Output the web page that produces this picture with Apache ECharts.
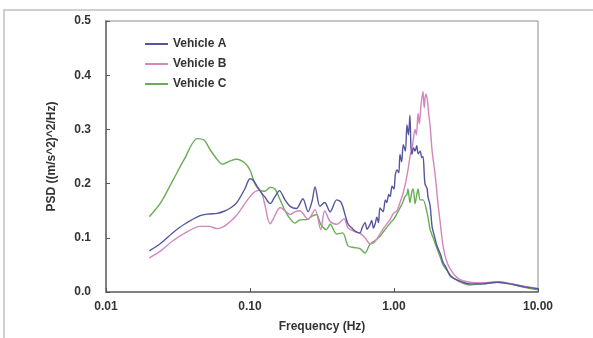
<!DOCTYPE html>
<html style="height:100%;">
<head>
  <meta charset="utf-8">
  <script src="https://cdn.jsdelivr.net/npm/echarts@6/dist/echarts.min.js"></script>
</head>
<body style="margin:0;background:#fff;">
  <div id="chart" style="width:593px;height:338px;"></div>
  <script>
    // frequency (Hz) and PSD values
    var freqA = [0.02, 0.024, 0.029, 0.035, 0.045, 0.052, 0.059, 0.066, 0.073, 0.081, 0.092, 0.1, 0.105, 0.112, 0.12, 0.127, 0.138, 0.149, 0.16, 0.175, 0.19, 0.21, 0.233, 0.253, 0.27, 0.283, 0.306, 0.33, 0.36, 0.4, 0.43, 0.46, 0.48, 0.51, 0.54, 0.58, 0.6, 0.63, 0.65, 0.68, 0.7, 0.72, 0.74, 0.76, 0.78, 0.8, 0.84, 0.87, 0.89, 0.92, 0.94, 0.97, 1.0, 1.02, 1.05, 1.08, 1.1, 1.13, 1.16, 1.2, 1.23, 1.26, 1.29, 1.31, 1.33, 1.37, 1.4, 1.44, 1.47, 1.52, 1.56, 1.59, 1.64, 1.7, 1.72, 1.78, 1.84, 1.9, 1.99, 2.1, 2.19, 2.3, 2.45, 2.6, 2.87, 3.37, 4.15, 5.19, 6.39, 7.87, 10];
    var psdA = [0.076, 0.09, 0.109, 0.125, 0.141, 0.144, 0.145, 0.149, 0.155, 0.165, 0.19, 0.209, 0.206, 0.195, 0.183, 0.175, 0.163, 0.176, 0.187, 0.17, 0.158, 0.154, 0.172, 0.148, 0.168, 0.194, 0.158, 0.165, 0.148, 0.17, 0.165, 0.14, 0.125, 0.118, 0.112, 0.109, 0.118, 0.128, 0.116, 0.124, 0.132, 0.118, 0.126, 0.138, 0.128, 0.155, 0.148, 0.17, 0.165, 0.18, 0.176, 0.195, 0.19, 0.215, 0.225, 0.22, 0.254, 0.24, 0.272, 0.26, 0.308, 0.29, 0.326, 0.27, 0.254, 0.266, 0.26, 0.27, 0.255, 0.26, 0.248, 0.25, 0.2, 0.19, 0.176, 0.16, 0.12, 0.105, 0.085, 0.07, 0.055, 0.045, 0.03, 0.025, 0.02, 0.015, 0.015, 0.018, 0.015, 0.01, 0.006];

    var freqB = [0.02, 0.024, 0.029, 0.035, 0.045, 0.052, 0.059, 0.065, 0.073, 0.081, 0.092, 0.1, 0.108, 0.117, 0.127, 0.133, 0.138, 0.145, 0.162, 0.175, 0.19, 0.205, 0.222, 0.253, 0.283, 0.31, 0.33, 0.36, 0.4, 0.45, 0.48, 0.53, 0.58, 0.63, 0.68, 0.72, 0.76, 0.82, 0.87, 0.94, 0.99, 1.05, 1.1, 1.15, 1.2, 1.25, 1.3, 1.33, 1.36, 1.4, 1.43, 1.47, 1.5, 1.54, 1.59, 1.62, 1.66, 1.7, 1.74, 1.78, 1.84, 1.93, 2.02, 2.09, 2.19, 2.3, 2.45, 2.78, 3.37, 4.15, 5.19, 6.39, 7.87, 10];
    var psdB = [0.063, 0.076, 0.094, 0.108, 0.121, 0.121, 0.117, 0.12, 0.13, 0.142, 0.163, 0.176, 0.185, 0.188, 0.16, 0.135, 0.126, 0.135, 0.156, 0.15, 0.143, 0.148, 0.15, 0.134, 0.152, 0.115, 0.15, 0.13, 0.125, 0.135, 0.118, 0.112, 0.108, 0.1, 0.089, 0.09, 0.098, 0.112, 0.122, 0.134, 0.145, 0.15, 0.165, 0.18, 0.2, 0.225, 0.254, 0.26, 0.28, 0.3, 0.29, 0.33, 0.31, 0.345, 0.37, 0.34, 0.365, 0.357, 0.33, 0.308, 0.26, 0.217, 0.163, 0.13, 0.085, 0.06, 0.043, 0.025, 0.018, 0.017, 0.019, 0.016, 0.011, 0.006];

    var freqC = [0.02, 0.024, 0.029, 0.035, 0.043, 0.048, 0.053, 0.059, 0.064, 0.073, 0.081, 0.092, 0.1, 0.108, 0.117, 0.127, 0.138, 0.149, 0.162, 0.175, 0.19, 0.205, 0.222, 0.25, 0.27, 0.29, 0.31, 0.34, 0.36, 0.4, 0.44, 0.48, 0.53, 0.58, 0.63, 0.68, 0.74, 0.8, 0.85, 0.94, 1.0, 1.05, 1.1, 1.15, 1.19, 1.23, 1.25, 1.29, 1.33, 1.36, 1.4, 1.44, 1.47, 1.52, 1.59, 1.7, 1.78, 1.87, 1.99, 2.09, 2.19, 2.33, 2.6, 3.37, 4.15, 5.19, 6.39, 7.87, 10];
    var psdC = [0.139, 0.165, 0.205, 0.245, 0.283, 0.28, 0.262, 0.245, 0.236, 0.242, 0.245, 0.238, 0.225, 0.2, 0.188, 0.186, 0.193, 0.19, 0.17, 0.15, 0.135, 0.127, 0.133, 0.134, 0.14, 0.143, 0.125, 0.115, 0.125, 0.107, 0.109, 0.085, 0.082, 0.08, 0.072, 0.088, 0.095, 0.103, 0.112, 0.127, 0.135, 0.145, 0.155, 0.165, 0.176, 0.18, 0.19, 0.165, 0.185, 0.19, 0.163, 0.18, 0.19, 0.17, 0.17, 0.145, 0.116, 0.1, 0.08, 0.065, 0.05, 0.04, 0.025, 0.013, 0.015, 0.018, 0.015, 0.009, 0.004];

    var names = ['Vehicle A', 'Vehicle B', 'Vehicle C'];
    var colors = ['#55559f', '#d387bf', '#68ad55'];

    function pairs(xs, ys) {
      return xs.map(function (x, i) { return [x, ys[i]]; });
    }
    var seriesData = [pairs(freqA, psdA), pairs(freqB, psdB), pairs(freqC, psdC)];

    var labelFont = { color: '#333', fontSize: 12, fontWeight: 'bold', fontFamily: 'Liberation Sans, Arial, sans-serif' };
    var chart = echarts.init(document.getElementById('chart'));

    chart.setOption({
      animation: false,
      backgroundColor: '#fff',
      textStyle: { fontFamily: 'Liberation Sans, Arial, sans-serif' },
      // outer chart-area frame, partly cut off like the picture
      graphic: [{
        type: 'rect',
        shape: { x: 4, y: 10, width: 700, height: 400 },
        style: { fill: null, stroke: '#cfcfcf', lineWidth: 2 },
        silent: true
      }],
      grid: {
        left: 106, right: 55, top: 21, bottom: 41,
        show: true, borderColor: '#8c8c8c', borderWidth: 1
      },
      legend: {
        data: names,
        orient: 'vertical',
        left: 140, top: 33,
        icon: 'rect',
        itemWidth: 23, itemHeight: 2, itemGap: 8,
        textStyle: { color: '#333', fontSize: 12, fontWeight: 'bold' }
      },
      xAxis: {
        type: 'log', logBase: 10, min: 0.01, max: 10,
        name: 'Frequency (Hz)', nameLocation: 'middle', nameGap: 29,
        nameTextStyle: labelFont,
        axisLine: { lineStyle: { color: '#808080', width: 2 } },
        axisTick: { inside: true, length: 4, lineStyle: { color: '#555' } },
        minorTick: { show: false },
        splitLine: { show: false },
        axisLabel: Object.assign({ margin: 9, formatter: function (v) { return v.toFixed(2); } }, labelFont)
      },
      yAxis: {
        type: 'value', min: 0, max: 0.5, interval: 0.1,
        name: 'PSD ((m/s^2)^2/Hz)', nameLocation: 'middle', nameGap: 48,
        nameTextStyle: labelFont,
        axisLine: { show: true, lineStyle: { color: '#808080', width: 2 } },
        axisTick: { show: true, inside: true, length: 4, lineStyle: { color: '#555' } },
        splitLine: { show: false },
        axisLabel: Object.assign({ margin: 15, formatter: function (v) { return v.toFixed(1); } }, labelFont)
      },
      series: names.map(function (n, i) {
        return {
          name: n,
          type: 'line',
          data: seriesData[i],
          symbol: 'none',
          smooth: 0.3,
          lineStyle: { color: colors[i], width: 1.4 },
          itemStyle: { color: colors[i] },
          z: 3 - i
        };
      })
    });
  </script>
</body>
</html>
